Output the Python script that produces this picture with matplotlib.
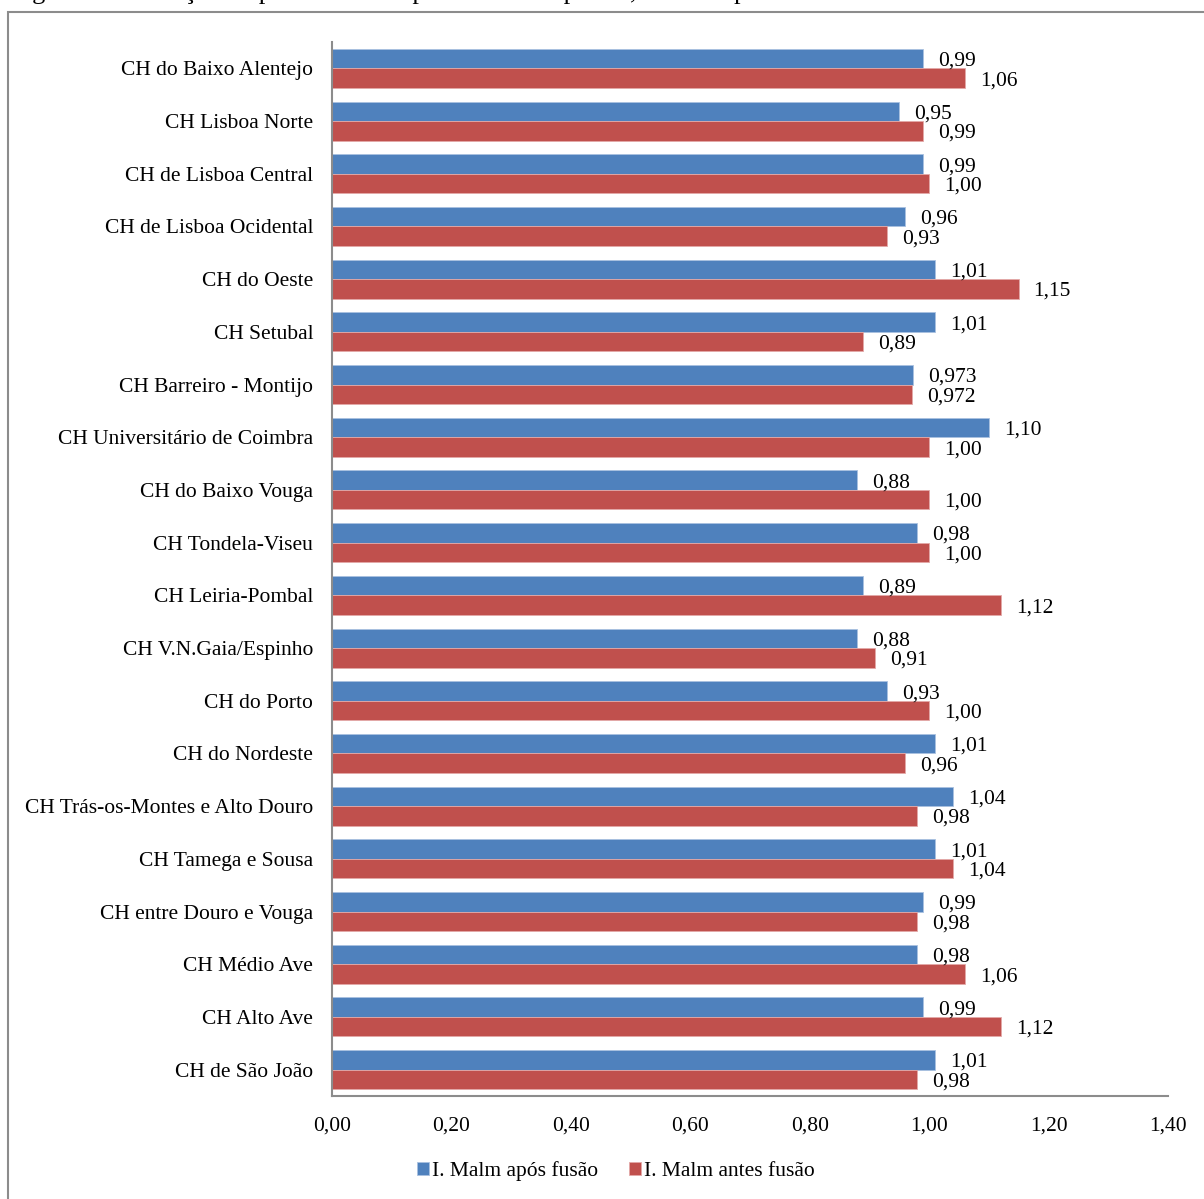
import numpy as np
import matplotlib.pyplot as plt
from matplotlib.patches import Rectangle

plt.rcParams['font.family'] = ['Liberation Serif', 'DejaVu Serif']

# Dados (de cima para baixo, como no gráfico)
hospitais = [
    'CH do Baixo Alentejo', 'CH Lisboa Norte', 'CH de Lisboa Central',
    'CH de Lisboa Ocidental', 'CH do Oeste', 'CH Setubal',
    'CH Barreiro - Montijo', 'CH Universitário de Coimbra',
    'CH do Baixo Vouga', 'CH Tondela-Viseu', 'CH Leiria-Pombal',
    'CH V.N.Gaia/Espinho', 'CH do Porto', 'CH do Nordeste',
    'CH Trás-os-Montes e Alto Douro', 'CH Tamega e Sousa',
    'CH entre Douro e Vouga', 'CH Médio Ave', 'CH Alto Ave', 'CH de São João',
]
apos_fusao = [0.99, 0.95, 0.99, 0.96, 1.01, 1.01, 0.973, 1.10, 0.88, 0.98,
              0.89, 0.88, 0.93, 1.01, 1.04, 1.01, 0.99, 0.98, 0.99, 1.01]
antes_fusao = [1.06, 0.99, 1.00, 0.93, 1.15, 0.89, 0.972, 1.00, 1.00, 1.00,
               1.12, 0.91, 1.00, 0.96, 0.98, 1.04, 0.98, 1.06, 1.12, 0.98]
series = ['I. Malm após fusão', 'I. Malm antes fusão']
cores = ['#4F81BD', '#C0504D']
xticks = [0.0, 0.2, 0.4, 0.6, 0.8, 1.0, 1.2, 1.4]

FS = 15.5
W, H = 1204, 1199
fig = plt.figure(figsize=(W / 100, H / 100), dpi=100)
ax = fig.add_axes([332 / W, 1 - 1096 / H, (1168 - 332) / W, (1096 - 42) / H])

n = len(hospitais)
y = np.arange(n)
h = 0.37


def fmt(v):
    s = f'{v:.3f}' if round(v, 2) != v else f'{v:.2f}'
    return s.replace('.', ',')


ax.barh(y - h / 2, apos_fusao, height=h, color=cores[0], label=series[0],
        edgecolor='#a9c1e0', linewidth=0.6)
ax.barh(y + h / 2, antes_fusao, height=h, color=cores[1], label=series[1],
        edgecolor='#e3a9a8', linewidth=0.6)

for i in range(n):
    ax.text(apos_fusao[i] + 0.025, y[i] - h / 2 + 0.05, fmt(apos_fusao[i]),
            va='center', ha='left', fontsize=FS)
    ax.text(antes_fusao[i] + 0.025, y[i] + h / 2 + 0.05, fmt(antes_fusao[i]),
            va='center', ha='left', fontsize=FS)

ax.set_xlim(0, 1.4)
ax.set_ylim(n - 0.5, -0.5)
ax.set_yticks(y)
ax.set_yticklabels(hospitais, fontsize=FS)
ax.set_xticks(xticks)
ax.set_xticklabels([f'{t:.2f}'.replace('.', ',') for t in xticks], fontsize=FS)
ax.tick_params(length=0)
ax.tick_params(axis='y', pad=13.5)
ax.tick_params(axis='x', pad=15)
for s in ['top', 'right']:
    ax.spines[s].set_visible(False)
for s in ['left', 'bottom']:
    ax.spines[s].set_color('#8c8c8c')
    ax.spines[s].set_linewidth(1.5)

fig.legend(loc='center', bbox_to_anchor=(616 / W, 1 - 1171 / H), ncol=2,
           frameon=False, fontsize=FS, handlelength=0.55, handleheight=0.55,
           handletextpad=0.15, columnspacing=1.45)

# moldura externa
fig.patches.append(Rectangle((8 / W, -0.01), 1.02, 1 - 12 / H + 0.01,
                             transform=fig.transFigure, fill=False,
                             edgecolor='#8c8c8c', linewidth=1.5))
# título cortado no topo (só se vêem as hastes inferiores)
fig.text(10 / W, 1 + 0.5 / H, 'Figura 3 - Evolução da produtividade por centro hospitalar, antes e após fusão',
         ha='left', va='baseline', fontsize=19)

fig.savefig('out.png', dpi=100)
